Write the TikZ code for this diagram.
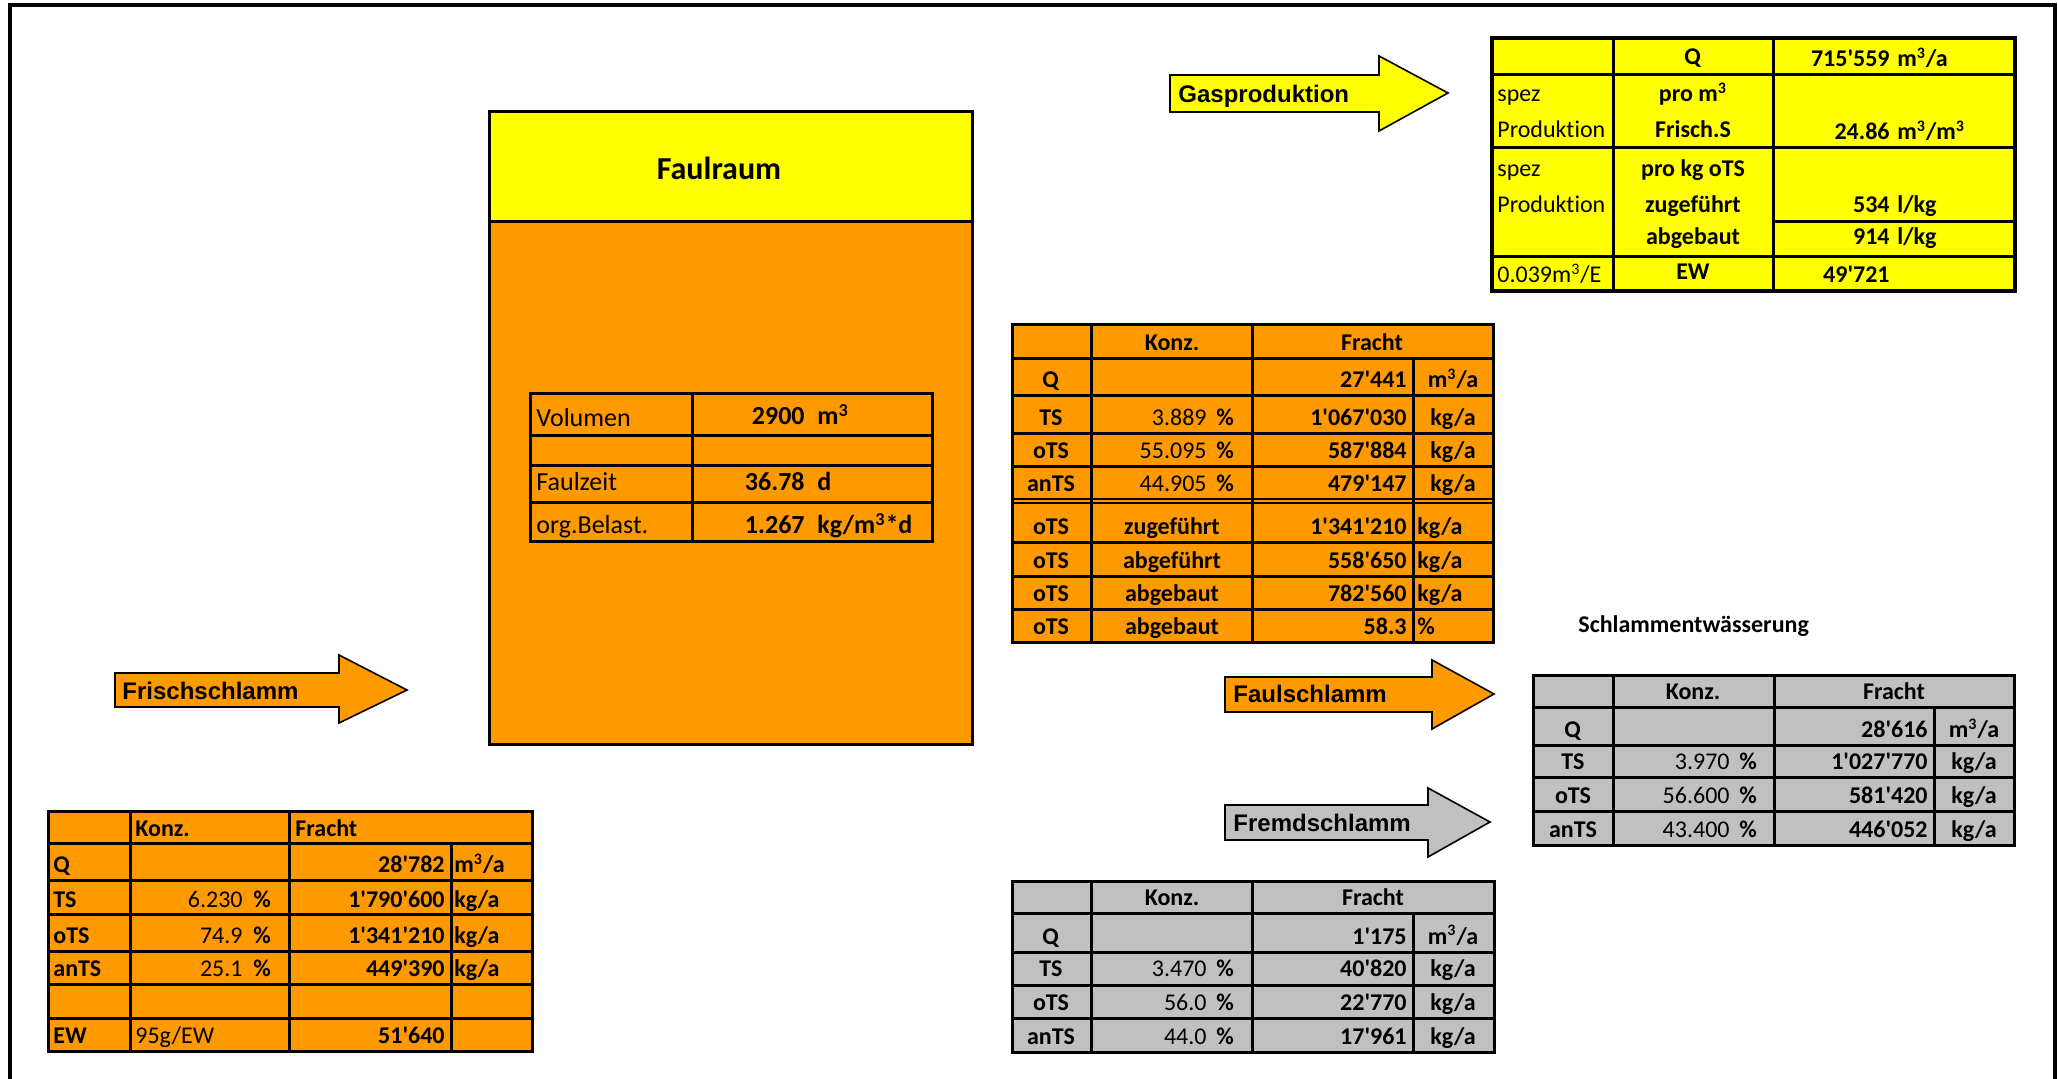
\documentclass[tikz,border=0pt]{standalone}
\usepackage{fontspec}
\newfontfamily\carlito{Carlito}[Ligatures=NoCommon]
\newfontfamily\arialb{Liberation Sans}
\definecolor{xlorange}{HTML}{FF9900}
\definecolor{xlyellow}{HTML}{FFFF00}
\definecolor{xlgray}{HTML}{C0C0C0}
\newcommand{\mqa}{m\textsuperscript{3}/a}
\newcommand{\kga}{kg/a}
\tikzset{
  rule/.style={line width=1.5pt},
  block/.style={draw, line width=0.8pt, line join=miter},
  arrowlabel/.style={anchor=base west, font=\arialb\bfseries\fontsize{12}{14}\selectfont},
}
\begin{document}
\begin{tikzpicture}[x=0.5pt, y=-0.5pt, font=\carlito\fontsize{12}{14}\selectfont,
    every node/.style={inner sep=0pt},
    lft/.style={anchor=base west}, rgt/.style={anchor=base east}, mid/.style={anchor=base}]
\useasboundingbox (0,0) rectangle (2058,1079);
\draw[line width=2pt] (9.5,1090) -- (9.5,5) -- (2055,5) -- (2055,1090);

% Faulraum
\fill[xlorange] (489,222) rectangle (972,745);
\fill[xlyellow] (489,112) rectangle (972,222);
\draw[rule] (489,112) rectangle (972,745) (489,222) -- (972,222);
\node[mid, font=\carlito\bfseries\fontsize{16}{19}\selectfont] (faulraum) at (719,180) {Faulraum};
\draw[rule] (530,394) rectangle (932,542);
\foreach \y in {436,466,503} \draw[rule] (530,\y) -- (932,\y);
\draw[rule] (692,394) -- (692,542);
\begin{scope}[font=\carlito\fontsize{13}{16}\selectfont]
  \node[lft] (vol) at (536,427) {Volumen};
  \node[rgt] (vol-v) at (805,425) {\textbf{2900}};
  \node[lft] (vol-u) at (817,425) {\textbf{m\textsuperscript{3}}};
  \node[lft] (fz) at (536,491) {Faulzeit};
  \node[rgt] (fz-v) at (805,491) {\textbf{36.78}};
  \node[lft] (fz-u) at (817,491) {\textbf{d}};
  \node[lft] (ob) at (536,534) {org.Belast.};
  \node[rgt] (ob-v) at (805,534) {\textbf{1.267}};
  \node[lft] (ob-u) at (817,534) {\textbf{kg/m\textsuperscript{3}*d}};
\end{scope}

% Gasproduktion
\filldraw[block, fill=xlyellow] (1170,75) -- (1379,75) -- (1379,56) -- (1448,93) -- (1379,131) -- (1379,112) -- (1170,112) -- cycle;
\node[arrowlabel] (gas) at (1178,103) {Gasproduktion};
\fill[xlyellow] (1492,38) rectangle (2015,291);
\draw[line width=2pt] (1492,38) rectangle (2015,291);
\foreach \y in {75,148,257} \draw[rule] (1492,\y) -- (2015,\y);
\draw[rule] (1773,222) -- (2015,222);
\foreach \x in {1613,1773} \draw[rule] (\x,38) -- (\x,291);
\node[mid] (g-q) at (1693,65) {\textbf{Q}};
\node[rgt] (g-q-v) at (1890,67) {\textbf{715'559}};
\node[lft] (g-q-u) at (1897,67) {\textbf{\mqa}};
\node[lft] (g-s1) at (1497,102) {spez};
\node[lft] (g-p1) at (1497,138) {Produktion};
\node[mid] (g-c1) at (1693,102) {\textbf{pro m\textsuperscript{3}}};
\node[mid] (g-c2) at (1693,138) {\textbf{Frisch.S}};
\node[rgt] (g-v1) at (1890,140) {\textbf{24.86}};
\node[lft] (g-u1) at (1897,140) {\textbf{m\textsuperscript{3}/m\textsuperscript{3}}};
\node[lft] (g-s2) at (1497,177) {spez};
\node[lft] (g-p2) at (1497,213) {Produktion};
\node[mid] (g-c3) at (1693,177) {\textbf{pro kg oTS}};
\node[mid] (g-c4) at (1693,213) {\textbf{zugeführt}};
\node[mid] (g-c5) at (1693,245) {\textbf{abgebaut}};
\node[rgt] (g-v2) at (1890,213) {\textbf{534}};
\node[lft] (g-u2) at (1897,213) {\textbf{l/kg}};
\node[rgt] (g-v3) at (1890,245) {\textbf{914}};
\node[lft] (g-u3) at (1897,245) {\textbf{l/kg}};
\node[lft] (g-e) at (1497,283) {0.039m\textsuperscript{3}/E};
\node[mid] (g-ew) at (1693,280) {\textbf{EW}};
\node[rgt] (g-ew-v) at (1890,283) {\textbf{49'721}};

% Frischschlamm
\filldraw[block, fill=xlorange] (115,673) -- (339,673) -- (339,655) -- (407,690) -- (339,723) -- (339,707) -- (115,707) -- cycle;
\node[arrowlabel] (frisch) at (122,700) {Frischschlamm};
\fill[xlorange] (48,812) rectangle (532,1051);
\draw[rule] (48,812) rectangle (532,1051);
\foreach \y in {844,881,915,951,984,1018} \draw[rule] (48,\y) -- (532,\y);
\foreach \x in {130,289} \draw[rule] (\x,812) -- (\x,1051);
\draw[rule] (451,844) -- (451,1051);
\node[lft] (fr-k) at (135,837) {\textbf{Konz.}};
\node[lft] (fr-f) at (295,837) {\textbf{Fracht}};
\node[lft] (fr-q) at (53,873) {\textbf{Q}};
\node[rgt] (fr-q-f) at (445,873) {\textbf{28'782}};
\node[lft] (fr-q-u) at (454,873) {\textbf{\mqa}};
\foreach \lab/\konz/\fr/\yb in {TS/6.230/1'790'600/907, oTS/74.9/1'341'210/943, anTS/25.1/449'390/976} {
  \node[lft] (fr-\lab) at (53,\yb) {\textbf{\lab}};
  \node[rgt] (fr-\lab-k) at (243,\yb) {\konz};
  \node[lft] (fr-\lab-p) at (253,\yb) {\textbf{\%}};
  \node[rgt] (fr-\lab-f) at (445,\yb) {\textbf{\fr}};
  \node[lft] (fr-\lab-u) at (454,\yb) {\textbf{\kga}};
}
\node[lft] (fr-ew) at (53,1043) {\textbf{EW}};
\node[lft] (fr-ew-k) at (135,1043) {95g/EW};
\node[rgt] (fr-ew-f) at (445,1043) {\textbf{51'640}};

% Faulschlamm (Bilanz Faulraum)
\fill[xlorange] (1012,325) rectangle (1493,643);
\draw[rule] (1012,325) rectangle (1493,643);
\foreach \y in {359,396,434,467,543,577,610} \draw[rule] (1012,\y) -- (1493,\y);
\draw[line width=1pt] (1012,499.5) -- (1493,499.5) (1012,503.5) -- (1493,503.5);
\foreach \x in {1091,1252} \draw[rule] (\x,325) -- (\x,643);
\draw[rule] (1413,359) -- (1413,643);
\node[mid] (fa-k) at (1172,351) {\textbf{Konz.}};
\node[mid] (fa-f) at (1372,351) {\textbf{Fracht}};
\node[mid] (fa-q) at (1051,388) {\textbf{Q}};
\node[rgt] (fa-q-f) at (1407,388) {\textbf{27'441}};
\node[mid] (fa-q-u) at (1453,388) {\textbf{\mqa}};
\foreach \lab/\konz/\fr/\yb in {TS/3.889/1'067'030/426, oTS/55.095/587'884/459, anTS/44.905/479'147/492} {
  \node[mid] (fa-\lab) at (1051,\yb) {\textbf{\lab}};
  \node[rgt] (fa-\lab-k) at (1207,\yb) {\konz};
  \node[lft] (fa-\lab-p) at (1216,\yb) {\textbf{\%}};
  \node[rgt] (fa-\lab-f) at (1407,\yb) {\textbf{\fr}};
  \node[mid] (fa-\lab-u) at (1453,\yb) {\textbf{\kga}};
}
\foreach \what/\fr/\un/\yb [count=\i] in {zugeführt/1'341'210/\kga/535, abgeführt/558'650/\kga/569, abgebaut/782'560/\kga/602, abgebaut/58.3/\%/635} {
  \node[mid] (bi-\i) at (1051,\yb) {\textbf{oTS}};
  \node[mid] (bi-\i-k) at (1172,\yb) {\textbf{\what}};
  \node[rgt] (bi-\i-f) at (1407,\yb) {\textbf{\fr}};
  \node[lft] (bi-\i-u) at (1417,\yb) {\textbf{\un}};
}
\filldraw[block, fill=xlorange] (1225,677) -- (1432,677) -- (1432,660) -- (1494,694) -- (1432,729) -- (1432,712) -- (1225,712) -- cycle;
\node[arrowlabel] (faul) at (1233,703) {Faulschlamm};

% Fremdschlamm
\filldraw[block, fill=xlgray] (1225,805) -- (1428,805) -- (1428,788) -- (1490,822) -- (1428,857) -- (1428,840) -- (1225,840) -- cycle;
\node[arrowlabel] (fremd) at (1233,832) {Fremdschlamm};
\fill[xlgray] (1012,882) rectangle (1494,1052);
\draw[rule] (1012,882) rectangle (1494,1052);
\foreach \y in {914,952,985,1018} \draw[rule] (1012,\y) -- (1494,\y);
\foreach \x in {1091,1252} \draw[rule] (\x,882) -- (\x,1052);
\draw[rule] (1413,914) -- (1413,1052);
\node[mid] (fm-k) at (1172,906) {\textbf{Konz.}};
\node[mid] (fm-f) at (1373,906) {\textbf{Fracht}};
\node[mid] (fm-q) at (1051,944) {\textbf{Q}};
\node[rgt] (fm-q-f) at (1407,944) {\textbf{1'175}};
\node[mid] (fm-q-u) at (1453,944) {\textbf{\mqa}};
\foreach \lab/\konz/\fr/\yb in {TS/3.470/40'820/977, oTS/56.0/22'770/1010, anTS/44.0/17'961/1044} {
  \node[mid] (fm-\lab) at (1051,\yb) {\textbf{\lab}};
  \node[rgt] (fm-\lab-k) at (1207,\yb) {\konz};
  \node[lft] (fm-\lab-p) at (1216,\yb) {\textbf{\%}};
  \node[rgt] (fm-\lab-f) at (1407,\yb) {\textbf{\fr}};
  \node[mid] (fm-\lab-u) at (1453,\yb) {\textbf{\kga}};
}

% Schlammentwaesserung
\node[lft] (sew) at (1578,633) {\textbf{Schlammentwässerung}};
\fill[xlgray] (1533,676) rectangle (2014,846);
\draw[rule] (1533,676) rectangle (2014,846);
\foreach \y in {708,746,778,812} \draw[rule] (1533,\y) -- (2014,\y);
\foreach \x in {1613,1774} \draw[rule] (\x,676) -- (\x,846);
\draw[rule] (1934,708) -- (1934,846);
\node[mid] (se-k) at (1693,700) {\textbf{Konz.}};
\node[mid] (se-f) at (1894,700) {\textbf{Fracht}};
\node[mid] (se-q) at (1573,738) {\textbf{Q}};
\node[rgt] (se-q-f) at (1928,738) {\textbf{28'616}};
\node[mid] (se-q-u) at (1974,738) {\textbf{\mqa}};
\foreach \lab/\konz/\fr/\yb in {TS/3.970/1'027'770/770, oTS/56.600/581'420/804, anTS/43.400/446'052/838} {
  \node[mid] (se-\lab) at (1573,\yb) {\textbf{\lab}};
  \node[rgt] (se-\lab-k) at (1730,\yb) {\konz};
  \node[lft] (se-\lab-p) at (1739,\yb) {\textbf{\%}};
  \node[rgt] (se-\lab-f) at (1928,\yb) {\textbf{\fr}};
  \node[mid] (se-\lab-u) at (1974,\yb) {\textbf{\kga}};
}
\end{tikzpicture}
\end{document}
